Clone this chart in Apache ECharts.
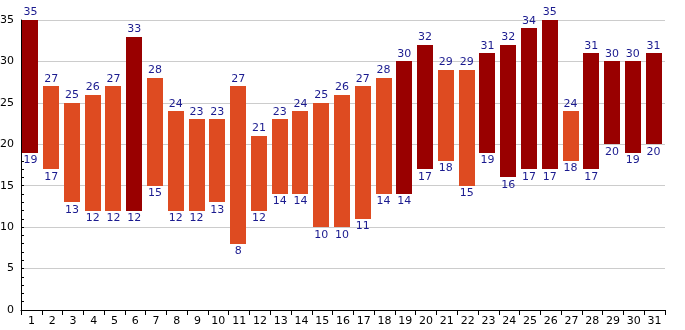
<!DOCTYPE html>
<html><head><meta charset="utf-8">
<script src="https://cdn.jsdelivr.net/npm/echarts@6/dist/echarts.min.js"></script>
<style>html,body{margin:0;padding:0;background:#fff}#c{width:685px;height:330px}</style>
</head><body><div id="c"></div>
<script>
const days = ['1','2','3','4','5','6','7','8','9','10','11','12','13','14','15','16','17','18','19','20','21','22','23','24','25','26','27','28','29','30','31'];
const highs = [35,27,25,26,27,33,28,24,23,23,27,21,23,24,25,26,27,28,30,32,29,29,31,32,34,35,24,31,30,30,31];
const lows  = [19,17,13,12,12,12,15,12,12,13,8,12,14,14,10,10,11,14,14,17,18,15,19,16,17,17,18,17,20,19,20];
const hotThreshold = 30;

const DARK = '#990000', ORANGE = '#DE4B21', LBL = '#1B1B8F';
const font = 'DejaVu Sans';

const chart = echarts.init(document.getElementById('c'), null, {renderer:'canvas'});
chart.setOption({
  animation:false,
  grid:{left:21,right:20,top:20,bottom:20,containLabel:false,outerBoundsMode:'none'},
  xAxis:{
    type:'category', data:days, boundaryGap:true,
    axisLine:{lineStyle:{color:'#000',width:1}},
    axisTick:{show:true,length:5,lineStyle:{color:'#000'},alignWithLabel:false},
    axisLabel:{color:'#000',fontFamily:font,fontSize:11,margin:6,interval:0},
    splitLine:{show:false}
  },
  yAxis:{
    type:'value', min:0, max:35, interval:5,
    axisLine:{show:true,lineStyle:{color:'#000',width:1}},
    axisTick:{show:true,inside:true,length:3,lineStyle:{color:'#000'}},
    minorTick:{show:true,splitNumber:5,length:3,lineStyle:{color:'#000'}},
    axisLabel:{color:'#000',fontFamily:font,fontSize:11,margin:7},
    splitLine:{show:true,lineStyle:{color:'#cccccc',width:1}}
  },
  series:[{
    type:'custom',
    data: days.map((d,i)=>[i, lows[i], highs[i]]),
    encode:{x:0,y:[1,2]},
    renderItem:(params, api)=>{
      const i = api.value(0), lo = api.value(1), hi = api.value(2);
      const pLo = api.coord([i, lo]), pHi = api.coord([i, hi]);
      const w = api.size([1,0])[0]*0.77;
      const x = Math.round(pLo[0]-w/2 - 1);
      const col = hi>=hotThreshold?DARK:ORANGE;
      return {type:'group', children:[
        {type:'rect', shape:{x:x, y:Math.round(pHi[1]), width:Math.round(w), height:Math.round(pLo[1])-Math.round(pHi[1])},
         style:{fill:col, stroke:null, lineWidth:0}},
        {type:'text', x:pLo[0]-1, y:pHi[1]-2, style:{text:String(hi), fill:LBL, font:'11px "'+font+'"', textAlign:'center', textVerticalAlign:'bottom'}},
        {type:'text', x:pLo[0]-1, y:pLo[1]+2, style:{text:String(lo), fill:LBL, font:'11px "'+font+'"', textAlign:'center', textVerticalAlign:'top'}}
      ]};
    }
  }]
});
</script></body></html>
